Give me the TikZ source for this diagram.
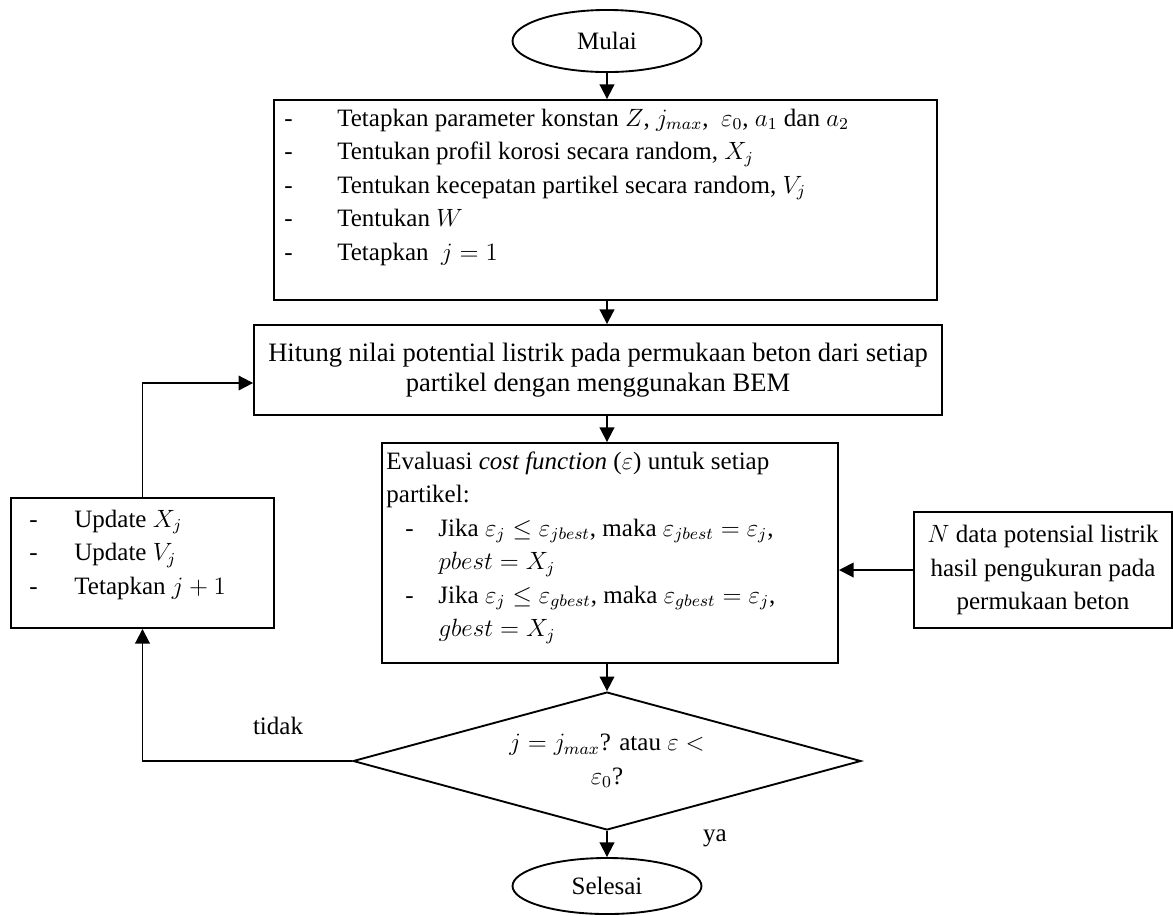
\documentclass[tikz,border=0pt]{standalone}
\usepackage{fontspec}
\setmainfont{Liberation Serif}
\usetikzlibrary{shapes.geometric,arrows.meta}
\begin{document}
\begin{tikzpicture}[x=0.48pt,y=-0.48pt,
  font=\fontsize{12}{16.1}\selectfont,
  box/.style={draw,line width=0.9pt,rectangle,inner sep=0pt},
  term/.style={draw,line width=0.9pt,ellipse,inner sep=0pt},
  dec/.style={draw,line width=0.9pt,diamond,inner sep=0pt,aspect=3.68},
  arr/.style={line width=0.9pt,-{Triangle[length=7pt,width=7pt]}},
  txt/.style={inner sep=0pt,anchor=base west},
  lbl/.style={inner sep=0pt}]
\useasboundingbox (0,0) rectangle (1173,915);

\node[term,minimum width=90.7pt,minimum height=29.8pt] (mulai) at (607,41) {Mulai};

\node[box,minimum width=318.2pt,minimum height=96pt] (box1) at (605.5,200) {};
\node[txt] (t1) at (284,126) {\begin{tabular}[t]{@{}l@{}}
\makebox[25.4pt][l]{-}Tetapkan parameter konstan $Z$, $j_{max}$,\ \ $\varepsilon_0$, $a_1$ dan $a_2$\\
\makebox[25.4pt][l]{-}Tentukan profil korosi secara random, $X_j$\\
\makebox[25.4pt][l]{-}Tentukan kecepatan partikel secara random, $V_j$\\
\makebox[25.4pt][l]{-}Tentukan $W$\\
\makebox[25.4pt][l]{-}Tetapkan\ \ $j=1$
\end{tabular}};

\node[box,minimum width=330.2pt,minimum height=43.2pt,align=center,
  font=\fontsize{12.75}{14.6}\selectfont] (box2) at (598,370)
  {Hitung nilai potential listrik pada permukaan beton dari setiap\\ partikel dengan menggunakan BEM};

\node[box,minimum width=218.9pt,minimum height=105.6pt] (box3) at (610,553) {};
\node[txt] (t3) at (386,469) {\begin{tabular}[t]{@{}l@{}}
Evaluasi \textit{cost function} ($\varepsilon$) untuk setiap\\
partikel:\\
\hspace{9.1pt}\makebox[15.9pt][l]{-}Jika $\varepsilon_j \le \varepsilon_{jbest}$, maka $\varepsilon_{jbest} = \varepsilon_j$,\\
\hspace{25pt}$pbest = X_j$\\
\hspace{9.1pt}\makebox[15.9pt][l]{-}Jika $\varepsilon_j \le \varepsilon_{gbest}$, maka $\varepsilon_{gbest} = \varepsilon_j$,\\
\hspace{25pt}$gbest = X_j$
\end{tabular}};

\node[box,minimum width=126.2pt,minimum height=62.4pt] (leftbox) at (142.5,563) {};
\node[txt] (tl) at (29,527) {\begin{tabular}[t]{@{}l@{}}
\makebox[21.6pt][l]{-}Update $X_j$\\
\makebox[21.6pt][l]{-}Update $V_j$\\
\makebox[21.6pt][l]{-}Tetapkan $j+1$
\end{tabular}};

\node[box,minimum width=123.8pt,minimum height=55.7pt,align=center] (boxN) at (1043,570)
  {$N$ data potensial listrik\\ hasil pengukuran pada\\ permukaan beton};

\node[dec,minimum width=243.8pt,minimum height=66.2pt,align=center] (dec) at (607,761)
  {$j = j_{max}$? atau $\varepsilon <$\\ $\varepsilon_0$?};

\node[term,minimum width=90.7pt,minimum height=26.9pt] (selesai) at (607,886) {Selesai};

\node[lbl] (ya) at (715,838) {ya};
\node[lbl] (tidak) at (278,726) {tidak};

\draw[arr] (mulai.south) -- (box1.north -| mulai.south);
\draw[arr] (box1.south -| mulai.south) -- (box2.north -| mulai.south);
\draw[arr] (box2.south -| mulai.south) -- (box3.north -| mulai.south);
\draw[arr] (box3.south -| mulai.south) -- (dec.north);
\draw[arr] (dec.south) -- (selesai.north);
\draw[arr] (boxN.west) -- (box3.east |- boxN.west);
\draw[arr] (dec.west) -| (leftbox.south);
\coordinate (lp) at (145,383);
\draw[arr] (leftbox.north) |- (box2.west |- lp);
\end{tikzpicture}
\end{document}
